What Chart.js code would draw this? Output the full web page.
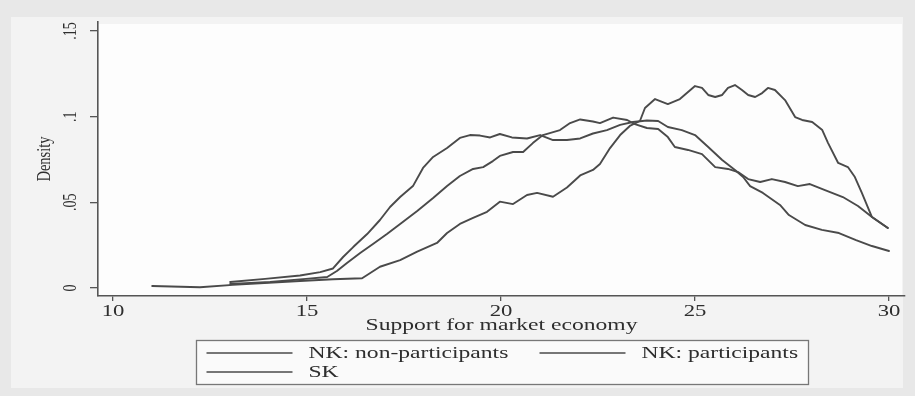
<!DOCTYPE html>
<html>
<head>
<meta charset="utf-8">
<script src="https://cdn.jsdelivr.net/npm/chart.js@4.4.1/dist/chart.umd.min.js"></script>
<style>
  html, body { margin: 0; padding: 0; background: #e9e9e9; }
  #wrap { width: 915px; height: 396px; }
</style>
</head>
<body>
<div id="wrap"><canvas id="c" width="915" height="396"></canvas></div>
<script>
// Kernel density of "Support for market economy", three groups
const seriesLabels = ['NK: non-participants', 'NK: participants', 'SK'];

const nonPartX = [13.02,13.92,14.82,15.34,15.67,15.93,16.19,16.55,16.88,17.14,17.40,17.73,17.99,18.25,18.61,18.94,19.20,19.46,19.72,19.97,20.28,20.67,21.01,21.34,21.70,22.04,22.37,22.73,23.07,23.40,23.76,24.05,24.30,24.66,25.00,25.34,25.70,26.03,26.24,26.42,26.75,27.19,27.42,27.84,28.27,28.71,29.15,29.56,30.00];
const nonPartY = [0.0035,0.0053,0.0073,0.0093,0.0114,0.0181,0.0239,0.0315,0.0397,0.0473,0.0531,0.0595,0.0701,0.0765,0.0817,0.0876,0.0893,0.0890,0.0879,0.0899,0.0879,0.0873,0.0893,0.0864,0.0864,0.0873,0.0902,0.0922,0.0952,0.0969,0.0978,0.0975,0.0940,0.0922,0.0893,0.0823,0.0747,0.0689,0.0648,0.0595,0.0555,0.0485,0.0426,0.0368,0.0339,0.0321,0.0280,0.0245,0.0216];

const partX = [13.02,14.05,14.97,15.52,15.77,16.03,16.37,16.70,17.06,17.40,17.84,18.25,18.61,18.94,19.28,19.54,19.79,19.97,20.31,20.57,20.82,21.08,21.52,21.78,22.04,22.37,22.55,22.89,23.25,23.45,23.76,24.05,24.30,24.48,24.82,25.18,25.52,25.85,26.11,26.37,26.68,26.98,27.32,27.65,27.96,28.35,28.81,29.20,29.56,29.97];
const partY = [0.0023,0.0035,0.0053,0.0064,0.0099,0.0146,0.0204,0.0257,0.0315,0.0374,0.0450,0.0525,0.0595,0.0654,0.0695,0.0706,0.0741,0.0771,0.0794,0.0794,0.0846,0.0893,0.0922,0.0963,0.0984,0.0972,0.0963,0.0995,0.0981,0.0957,0.0934,0.0928,0.0881,0.0823,0.0806,0.0782,0.0706,0.0695,0.0677,0.0636,0.0619,0.0636,0.0619,0.0595,0.0607,0.0572,0.0531,0.0479,0.0414,0.0350];

const skX = [11.01,12.24,13.09,14.82,15.67,16.42,16.88,17.40,17.84,18.35,18.61,18.94,19.28,19.64,19.97,20.31,20.67,20.93,21.34,21.70,22.04,22.37,22.55,22.81,23.07,23.32,23.58,23.71,23.97,24.30,24.61,24.82,25.00,25.18,25.34,25.52,25.70,25.85,26.03,26.21,26.37,26.55,26.73,26.88,27.06,27.32,27.58,27.76,28.02,28.28,28.43,28.69,28.94,29.12,29.30,29.56,29.97];
const skY = [0.0012,0.0004,0.0018,0.0041,0.0051,0.0057,0.0124,0.0163,0.0212,0.0263,0.0321,0.0374,0.0409,0.0445,0.0504,0.0490,0.0543,0.0555,0.0533,0.0587,0.0657,0.0689,0.0724,0.0817,0.0893,0.0946,0.0975,0.1051,0.1103,0.1074,0.1103,0.1144,0.1179,0.1168,0.1127,0.1115,0.1127,0.1168,0.1185,0.1156,0.1127,0.1115,0.1138,0.1168,0.1156,0.1097,0.0998,0.0981,0.0969,0.0922,0.0846,0.0730,0.0706,0.0648,0.0555,0.0414,0.0350];

const xTickValues = [10, 15, 20, 25, 30];
const yTickValues = [0, 0.05, 0.1, 0.15];
const yTickLabels = ['0', '.05', '.1', '.15'];
const xTitle = 'Support for market economy';
const yTitle = 'Density';

const LINE = '#4a4a4a';
const INK = '#2e2e2e';
const AXIS = '#555555';
const SERIF = '"Liberation Serif", "Times New Roman", serif';

function toPoints(xs, ys) {
  return xs.map((x, i) => ({ x: x, y: ys[i] }));
}

// Stretched serif text; vertical text reads bottom-to-top
function drawText(ctx, str, x, y, size, align, stretch, vertical) {
  ctx.save();
  ctx.translate(x, y);
  if (vertical) {
    ctx.rotate(-Math.PI / 2);
    ctx.scale(1, stretch);
  } else {
    ctx.scale(stretch, 1);
  }
  ctx.font = size + 'px ' + SERIF;
  ctx.fillStyle = INK;
  ctx.textAlign = align;
  ctx.textBaseline = 'middle';
  ctx.fillText(str, 0, 0);
  ctx.restore();
}

const backdrop = {
  id: 'backdrop',
  beforeDraw(chart) {
    const ctx = chart.ctx;
    const a = chart.chartArea;
    ctx.save();
    ctx.fillStyle = '#e8e8e8';
    ctx.fillRect(0, 0, chart.width, chart.height);
    ctx.fillStyle = '#f3f3f3';
    ctx.fillRect(11, 17, 892, 371);
    ctx.fillStyle = '#fdfdfd';
    ctx.fillRect(a.left, a.top + 2, a.right - a.left - 3, a.bottom - a.top - 2);
    ctx.restore();
  }
};

const textLayer = {
  id: 'textLayer',
  afterDraw(chart) {
    const ctx = chart.ctx;
    const a = chart.chartArea;
    const xs = chart.scales.x;
    const ys = chart.scales.y;
    const cx = (a.left + a.right) / 2;

    xTickValues.forEach(v => {
      drawText(ctx, String(v), xs.getPixelForValue(v), 312, 16, 'center', 1.42, false);
    });
    drawText(ctx, xTitle, cx, 326, 16.5, 'center', 1.43, false);

    yTickValues.forEach((v, i) => {
      drawText(ctx, yTickLabels[i], 71, ys.getPixelForValue(v), 14, 'center', 1.35, true);
    });
    drawText(ctx, yTitle, 45, (a.top + a.bottom) / 2, 14.5, 'center', 1.3, true);

    // legend box: two columns, third entry wraps under the first
    const boxW = 612, boxH = 44;
    const bx = Math.round(cx - boxW / 2) + 0.5;
    const by = 340.5;
    ctx.save();
    ctx.fillStyle = '#fafafa';
    ctx.fillRect(bx, by, boxW, boxH);
    ctx.strokeStyle = '#777777';
    ctx.lineWidth = 1.3;
    ctx.strokeRect(bx, by, boxW, boxH);
    ctx.restore();

    const slots = [
      { lx: bx + 10, ly: 353 },
      { lx: bx + 343, ly: 353 },
      { lx: bx + 10, ly: 372 }
    ];
    chart.data.datasets.forEach((ds, i) => {
      const s = slots[i];
      ctx.save();
      ctx.strokeStyle = ds.borderColor;
      ctx.lineWidth = 1.7;
      ctx.beginPath();
      ctx.moveTo(s.lx, s.ly);
      ctx.lineTo(s.lx + 86, s.ly);
      ctx.stroke();
      ctx.restore();
      drawText(ctx, ds.label, s.lx + 102, s.ly + 1, 16.5, 'left', 1.43, false);
    });
  }
};

new Chart(document.getElementById('c'), {
  type: 'line',
  data: {
    datasets: [
      { label: seriesLabels[0], data: toPoints(nonPartX, nonPartY) },
      { label: seriesLabels[1], data: toPoints(partX, partY) },
      { label: seriesLabels[2], data: toPoints(skX, skY) }
    ].map(d => Object.assign(d, {
      borderColor: LINE,
      borderWidth: 1.9,
      borderJoinStyle: 'round',
      borderCapStyle: 'round',
      pointRadius: 0,
      tension: 0,
      fill: false
    }))
  },
  options: {
    responsive: false,
    animation: false,
    devicePixelRatio: 1,
    layout: { padding: { left: 98, right: 10, top: 22, bottom: 100 } },
    plugins: {
      legend: { display: false },
      title: { display: false },
      tooltip: { enabled: false }
    },
    scales: {
      x: {
        type: 'linear',
        min: 9.613,
        max: 30.412,
        afterBuildTicks(s) { s.ticks = xTickValues.map(v => ({ value: v })); },
        afterFit(s) { s.height = 0; },
        ticks: { display: false },
        grid: { display: true, drawOnChartArea: false, drawTicks: true, tickLength: 5, color: AXIS, lineWidth: 1.3 },
        border: { display: true, color: AXIS, width: 1.6 }
      },
      y: {
        type: 'linear',
        min: -0.00467,
        max: 0.1553,
        afterBuildTicks(s) { s.ticks = yTickValues.map(v => ({ value: v })); },
        afterFit(s) { s.width = 0; },
        ticks: { display: false },
        grid: { display: true, drawOnChartArea: false, drawTicks: true, tickLength: 8, color: AXIS, lineWidth: 1.3 },
        border: { display: true, color: AXIS, width: 1.6 }
      }
    }
  },
  plugins: [backdrop, textLayer]
});
</script>
</body>
</html>
